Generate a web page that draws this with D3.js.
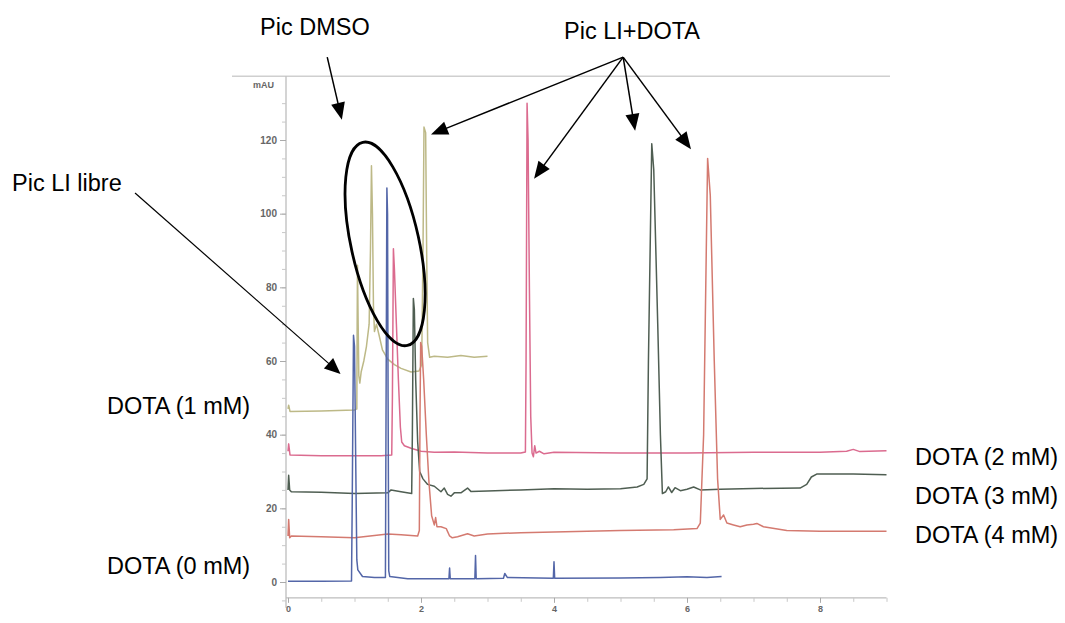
<!DOCTYPE html>
<html><head><meta charset="utf-8">
<script src="https://cdn.jsdelivr.net/npm/d3@7"></script>
<style>body{margin:0;background:#fff}svg{display:block}</style>
</head><body>
<svg id="c" width="1065" height="623"></svg>
<script>
// ---- data (retention time [min], absorbance [mAU]) ----
const yTicks = [0, 20, 40, 60, 80, 100, 120];
const xTicks = [0, 2, 4, 6, 8];
const seriesNames = ["DOTA (0 mM)", "DOTA (1 mM)", "DOTA (2 mM)", "DOTA (3 mM)", "DOTA (4 mM)"];
const seriesColors = ["#5366a8", "#bdb987", "#db6b8f", "#4f5e52", "#d47a70"];

const dota0 = [[0,0.2],[0.5,0.2],[0.955,0.3],[0.965,20],[0.985,67],[1.0,64],[1.02,30],[1.035,6],[1.05,3.3],[1.12,1.5],[1.3,1.2],[1.465,1.2],[1.475,50],[1.487,107],[1.497,100],[1.505,50],[1.515,3],[1.53,1.5],[1.8,0.9],[2.0,0.9],[2.42,0.9],[2.43,3.8],[2.44,0.9],[2.81,0.9],[2.82,7.2],[2.83,0.9],[3.24,1],[3.26,2.3],[3.3,1.2],[3.99,1],[4.0,5.5],[4.01,1],[5.0,1.1],[5.6,1.2],[6.0,1.4],[6.3,1.2],[6.52,1.5]];
const dota1 = [[0,47],[0.01,48],[0.03,46.3],[0.5,46.4],[1.0,46.7],[1.035,47],[1.04,70],[1.045,86],[1.055,70],[1.065,56],[1.08,54],[1.1,57],[1.14,60],[1.18,64],[1.22,70],[1.24,90],[1.255,113],[1.27,100],[1.285,75],[1.3,68],[1.33,70],[1.37,67],[1.42,63],[1.5,60.5],[1.6,59],[1.7,58],[1.85,57],[1.97,57.3],[2.01,59],[2.03,90],[2.045,123.5],[2.07,122],[2.085,90],[2.1,65],[2.13,61],[2.2,61.3],[2.4,61],[2.6,61.5],[2.8,61],[3.0,61.3]];
const dota2 = [[0,35.5],[0.01,37.5],[0.03,34.5],[0.5,34.3],[1.0,34.3],[1.4,34.3],[1.56,34.5],[1.57,50],[1.585,90.5],[1.6,85],[1.63,70],[1.66,55],[1.69,42],[1.71,38],[1.75,37],[1.85,36.3],[2.0,35.5],[2.2,35.2],[2.5,35.3],[3.0,35],[3.5,35],[3.57,35.3],[3.58,60],[3.595,130],[3.61,120],[3.63,80],[3.65,45],[3.67,35],[3.69,34],[3.71,37],[3.73,35],[3.78,35.5],[3.85,34.8],[4.0,35.2],[5.0,35],[6.0,35],[7.0,35.2],[8.0,35.2],[8.4,35.5],[8.5,36],[8.6,35.4],[9.0,35.6]];
const dota3 = [[0,25],[0.01,29],[0.025,25],[0.05,24.5],[0.5,24.4],[1.0,24],[1.5,24.2],[1.55,25],[1.7,24.5],[1.86,24],[1.87,40],[1.885,77],[1.9,74],[1.92,55],[1.95,38],[1.98,30],[2.03,28],[2.1,26.5],[2.2,26],[2.3,24.5],[2.35,25.5],[2.4,23.8],[2.45,23.3],[2.5,24.2],[2.6,24.2],[2.7,25.5],[2.75,24.6],[3.0,24.7],[3.5,25],[4.0,25.3],[4.5,25.2],[5.0,25.3],[5.25,25.8],[5.35,26.5],[5.4,28],[5.42,60],[5.47,119],[5.5,112],[5.56,70],[5.6,40],[5.63,24],[5.68,24.5],[5.72,25.8],[5.77,24.3],[5.82,25.6],[5.9,24.8],[6.0,25.2],[6.1,25.8],[6.2,25],[6.5,25.2],[7.0,25.4],[7.7,25.5],[7.8,26.5],[7.87,28.5],[7.95,29.3],[8.5,29.3],[9.0,29.1]];
const dota4 = [[0,12.5],[0.01,17],[0.025,12],[0.05,12.5],[0.5,12.3],[1.0,12],[1.5,13],[1.7,12.8],[1.95,12.5],[1.975,14],[1.985,45],[1.995,65],[2.01,64],[2.04,55],[2.08,40],[2.12,27],[2.16,18],[2.2,15.5],[2.22,17.5],[2.24,15],[2.3,15],[2.38,14.5],[2.43,12.5],[2.47,12],[2.55,12.3],[2.7,13.1],[2.8,12.5],[3.0,13],[3.5,13.4],[4.0,13.6],[5.0,14],[5.8,14.2],[6.15,14.5],[6.2,16],[6.25,40],[6.31,115],[6.35,105],[6.41,60],[6.46,28],[6.5,17],[6.55,18.2],[6.6,16],[6.7,15.5],[6.8,15],[6.9,15.5],[7.0,15.7],[7.05,15.9],[7.15,15],[7.5,14],[8.0,13.8],[9.0,13.8]];
const seriesData = [dota0, dota1, dota2, dota3, dota4];

// annotation anchors in data units (time, mAU)
const annoLabels = ["Pic DMSO", "Pic LI+DOTA", "Pic LI libre"];
const dmsoArrow = [[0.59, 142.5], [0.81, 125.5]];
const liDotaOrigin = [5.04, 142.5];
const liDotaTargets = [[2.15, 121.5], [3.7, 109.5], [5.22, 122.5], [6.06, 117.5]];
const liLibreArrow = [[-2.3, 105.6], [0.79, 56.5]];
const dmsoEllipseCenter = [1.46, 91.8];

// ---- layout ----
const svg = d3.select("#c");
const x = d3.scaleLinear().domain([0, 9]).range([288, 886.5]);
const y = d3.scaleLinear().domain([0, 120]).range([582, 140]);
const FONT = "Liberation Sans, Arial, sans-serif";
const LABEL_SIZE = 23.5;

// top frame line
svg.append("line").attr("x1", 232).attr("x2", 890).attr("y1", y(137.3)).attr("y2", y(137.3))
  .attr("stroke", "#cfcfcf").attr("stroke-width", 1.5);

// y axis
const yAx = svg.append("g").attr("transform", `translate(${x(0) - 2},0)`);
yAx.append("line").attr("y1", y(137.3)).attr("y2", y(-7)).attr("stroke", "#bdbdbd").attr("stroke-width", 1.3);
const yAxisMinor = d3.axisLeft(y).tickValues(d3.range(-5, 131, 5)).tickSize(4).tickFormat("");
yAx.append("g").call(yAxisMinor).call(g => g.select(".domain").remove())
  .selectAll("line").attr("stroke", "#c8c8c8");
const yAxisMajor = d3.axisLeft(y).tickValues(yTicks).tickSize(6).tickPadding(3);
yAx.append("g").call(yAxisMajor).call(g => g.select(".domain").remove())
  .call(g => g.selectAll("line").attr("stroke", "#aaa"))
  .call(g => g.selectAll("text").attr("font-family", FONT).attr("font-size", 10).attr("font-weight", "bold").attr("fill", "#666"));
svg.append("text").attr("x", 253).attr("y", y(134)).attr("font-family", FONT).attr("font-size", 9)
  .attr("font-weight", "bold").attr("fill", "#666").text("mAU");

// x axis
const xAx = svg.append("g").attr("transform", `translate(0,${y(-4.3)})`);
xAx.append("line").attr("x1", x(0) - 2).attr("x2", x(9)).attr("stroke", "#bdbdbd").attr("stroke-width", 1.3);
xAx.append("g").call(d3.axisBottom(x).tickValues(d3.range(0, 9.01, 0.5)).tickSize(4).tickFormat(""))
  .call(g => g.select(".domain").remove()).selectAll("line").attr("stroke", "#c8c8c8");
xAx.append("g").call(d3.axisBottom(x).tickValues(xTicks).tickSize(5).tickPadding(3))
  .call(g => g.select(".domain").remove())
  .call(g => g.selectAll("line").attr("stroke", "#aaa"))
  .call(g => g.selectAll("text").attr("font-family", FONT).attr("font-size", 9).attr("font-weight", "bold").attr("fill", "#666"));

// traces
const line = d3.line().x(d => x(d[0])).y(d => y(d[1]));
const drawOrder = [1, 2, 3, 4, 0];
drawOrder.forEach(i => {
  svg.append("path").datum(seriesData[i]).attr("d", line).attr("fill", "none")
    .attr("stroke", seriesColors[i]).attr("stroke-width", 1.5).attr("stroke-linejoin", "round");
});

// series labels
const labelPos = [[107, 574], [107, 414], [915, 465], [915, 504], [915, 543]];
seriesNames.forEach((n, i) => {
  svg.append("text").attr("x", labelPos[i][0]).attr("y", labelPos[i][1]).attr("font-family", FONT)
    .attr("font-size", LABEL_SIZE).attr("fill", "#000").text(n);
});

// annotations
function arrow(p0, p1, w, headL, headW) {
  const x0 = x(p0[0]), y0 = y(p0[1]), x1 = x(p1[0]), y1 = y(p1[1]);
  const dx = x1 - x0, dy = y1 - y0, L = Math.hypot(dx, dy), ux = dx / L, uy = dy / L;
  const bx = x1 - ux * headL, by = y1 - uy * headL;
  svg.append("line").attr("x1", x0).attr("y1", y0).attr("x2", bx + ux * 2).attr("y2", by + uy * 2)
    .attr("stroke", "#000").attr("stroke-width", w);
  svg.append("path").attr("d", `M${x1},${y1}L${bx - uy * headW},${by + ux * headW}L${bx + uy * headW},${by - ux * headW}Z`)
    .attr("fill", "#000");
}
arrow(dmsoArrow[0], dmsoArrow[1], 1.5, 17, 7);
liDotaTargets.forEach(t => arrow(liDotaOrigin, t, 1.5, 17, 7));
arrow(liLibreArrow[0], liLibreArrow[1], 1.2, 16, 7);

svg.append("ellipse").attr("cx", 0).attr("cy", 0).attr("rx", 34).attr("ry", 104)
  .attr("transform", `translate(${x(dmsoEllipseCenter[0])},${y(dmsoEllipseCenter[1])}) rotate(-12.4)`)
  .attr("fill", "none").attr("stroke", "#000").attr("stroke-width", 2.8);

const annoPos = [[260, 35], [564, 39], [12, 191]];
annoLabels.forEach((t, i) => {
  svg.append("text").attr("x", annoPos[i][0]).attr("y", annoPos[i][1]).attr("font-family", FONT)
    .attr("font-size", LABEL_SIZE).attr("fill", "#000").text(t);
});
</script>
</body></html>
